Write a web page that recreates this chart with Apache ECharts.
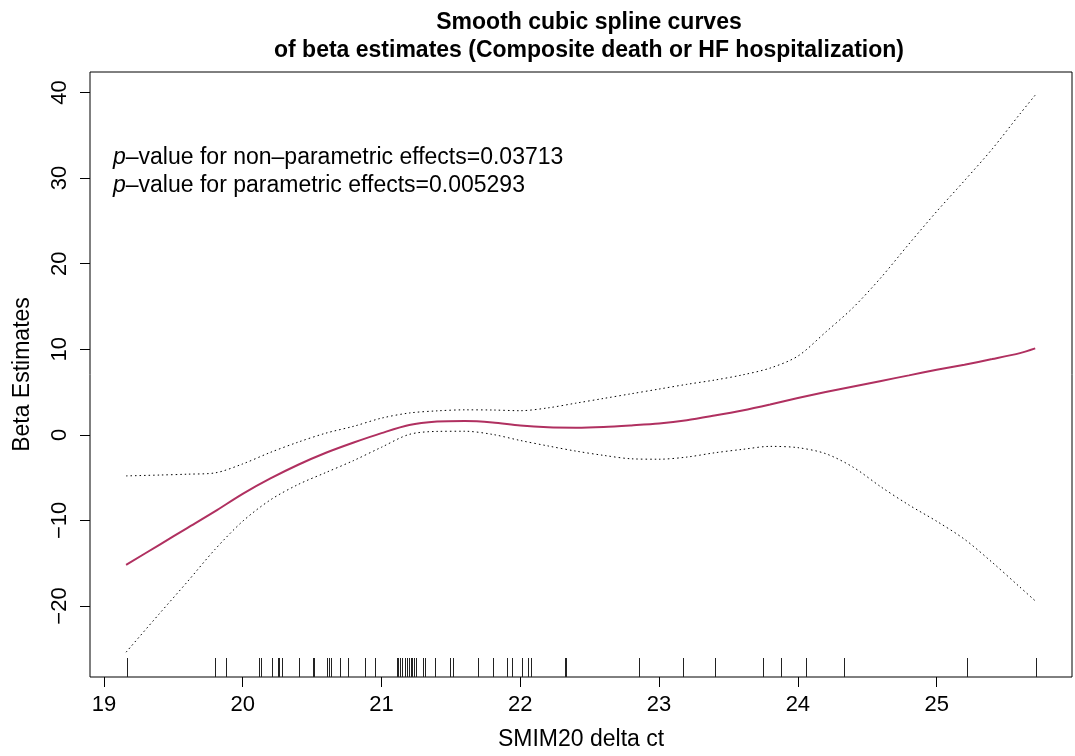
<!DOCTYPE html>
<html>
<head>
<meta charset="utf-8">
<script src="https://cdn.jsdelivr.net/npm/echarts@6/dist/echarts.min.js"></script>
<style>
  html, body { margin: 0; padding: 0; background: #fff; }
  #chart { width: 1075px; height: 756px; }
</style>
</head>
<body>
<div id="chart"></div>
<script>
// values
const xGrid = [19.16, 19.4, 19.6, 19.8, 20.0, 20.2, 20.4, 20.6, 20.8, 21.0, 21.2, 21.4, 21.6, 21.8,
  22.0, 22.2, 22.4, 22.6, 22.8, 23.0, 23.2, 23.4, 23.6, 23.8, 24.0, 24.2, 24.4, 24.6, 24.8,
  25.0, 25.2, 25.4, 25.6, 25.71]
const fitValues = [-15.2, -12.85, -10.9, -8.95, -6.9, -5.1, -3.5, -2.1, -0.9, 0.2, 1.15, 1.55, 1.62, 1.45,
  1.08, 0.88, 0.84, 0.92, 1.1, 1.32, 1.7, 2.25, 2.85, 3.55, 4.3, 5.0, 5.65, 6.3, 6.95,
  7.6, 8.2, 8.85, 9.55, 10.1]
const upperValues = [-4.8, -4.7, -4.6, -4.45, -3.4, -2.05, -0.85, 0.2, 1.0, 1.95, 2.55, 2.8, 2.92, 2.9,
  2.82, 3.15, 3.7, 4.25, 4.8, 5.35, 5.9, 6.4, 7.0, 7.8, 9.2, 12.0, 14.9, 18.4, 22.3,
  26.1, 29.7, 33.4, 37.5, 39.7]
const lowerValues = [-25.4, -20.9, -17.2, -13.4, -10.1, -7.6, -5.8, -4.4, -3.0, -1.45, 0.05, 0.4, 0.42, 0.05,
  -0.66, -1.3, -1.9, -2.4, -2.8, -2.85, -2.6, -2.1, -1.7, -1.35, -1.5, -2.2, -3.8, -6.1, -8.2,
  -10.1, -12.2, -14.9, -17.8, -19.4]
const rugValues = [19.163, 19.797, 19.88, 20.114, 20.13, 20.21, 20.254, 20.265, 20.285, 20.407,
  20.505, 20.515, 20.606, 20.62, 20.637, 20.704, 20.757, 20.884, 20.953,
  21.109, 21.12, 21.135, 21.147, 21.171, 21.181, 21.198, 21.21, 21.221, 21.234, 21.248,
  21.30, 21.313, 21.387, 21.493, 21.512, 21.692, 21.807, 21.907, 21.943, 22.01, 22.056, 22.075,
  22.32, 22.33, 22.853, 23.172, 23.403, 23.748, 23.879, 24.057, 24.335, 25.216, 25.713]
const xTicks = [19, 20, 21, 22, 23, 24, 25]
const yTicks = [-20, -10, 0, 10, 20, 30, 40]

const xMin = 18.9
const xMax = 25.975
const yMin = -28.3
const yMax = 42.4

const font = 'Liberation Sans'

const pair = (ys) => xGrid.map((x, i) => [x, ys[i]])
// R prints a real minus sign
const minus = (v) => String(v).replace('-', '\u2212')

let chart = echarts.init(document.getElementById('chart'))
let option = {
  animation: false,
  backgroundColor: '#fff',
  textStyle: { fontFamily: font, color: '#000' },
  title: {
    text: 'Smooth cubic spline curves\nof beta estimates (Composite death or HF hospitalization)',
    left: 584,
    textAlign: 'center',
    top: 4,
    textStyle: {
      fontFamily: font,
      fontSize: 23,
      fontWeight: 'bold',
      lineHeight: 28,
      color: '#000'
    }
  },
  grid: {
    left: 90,
    right: 3,
    top: 72,
    bottom: 79,
    outerBoundsMode: 'none',
    containLabel: false,
    show: true,
    borderColor: '#000',
    borderWidth: 1,
    backgroundColor: 'transparent'
  },
  xAxis: {
    type: 'value',
    min: xMin,
    max: xMax,
    name: 'SMIM20 delta ct',
    nameLocation: 'middle',
    nameGap: 51,
    nameTextStyle: { fontFamily: font, fontSize: 23, color: '#000' },
    axisLine: { show: false, onZero: false },
    splitLine: { show: false },
    axisTick: {
      show: true,
      length: 10,
      inside: false,
      customValues: xTicks,
      lineStyle: { color: '#000', width: 1 }
    },
    axisLabel: {
      customValues: xTicks,
      margin: 17,
      fontFamily: font,
      fontSize: 22,
      color: '#000'
    }
  },
  yAxis: {
    type: 'value',
    min: yMin,
    max: yMax,
    name: 'Beta Estimates',
    nameLocation: 'middle',
    nameRotate: 90,
    nameGap: 56,
    nameTextStyle: { fontFamily: font, fontSize: 23, color: '#000' },
    axisLine: { show: false, onZero: false },
    splitLine: { show: false },
    axisTick: {
      show: true,
      length: 10,
      inside: false,
      customValues: yTicks,
      lineStyle: { color: '#000', width: 1 }
    },
    axisLabel: {
      customValues: yTicks,
      formatter: minus,
      rotate: 90,
      margin: 19,
      fontFamily: font,
      fontSize: 22,
      color: '#000'
    }
  },
  graphic: [
    {
      type: 'text',
      left: 113,
      top: 144,
      style: {
        text: '{i|p}–value for non–parametric effects=0.03713\n{i|p}–value for parametric effects=0.005293',
        font: '23px "Liberation Sans"',
        fill: '#000',
        lineHeight: 28,
        rich: {
          i: { fontStyle: 'italic', fontSize: 23, fontFamily: font, fill: '#000' }
        }
      }
    }
  ],
  series: [
    {
      name: 'upper',
      type: 'line',
      data: pair(upperValues),
      smooth: 0.3,
      showSymbol: false,
      lineStyle: { color: '#000', width: 1, type: [1.5, 3] }
    },
    {
      name: 'lower',
      type: 'line',
      data: pair(lowerValues),
      smooth: 0.3,
      showSymbol: false,
      lineStyle: { color: '#000', width: 1, type: [1.5, 3] }
    },
    {
      name: 'fit',
      type: 'line',
      data: pair(fitValues),
      smooth: 0.3,
      showSymbol: false,
      lineStyle: { color: '#B03060', width: 2 }
    },
    {
      name: 'rug',
      type: 'custom',
      data: rugValues.map(v => [v, yMin]),
      renderItem: (params, api) => {
        let p = api.coord([api.value(0), api.value(1)])
        return {
          type: 'line',
          shape: { x1: Math.round(p[0]) + 0.5, y1: p[1], x2: Math.round(p[0]) + 0.5, y2: p[1] - 19 },
          style: { stroke: '#222', lineWidth: 1 }
        }
      }
    }
  ]
}
chart.setOption(option)
</script>
</body>
</html>
